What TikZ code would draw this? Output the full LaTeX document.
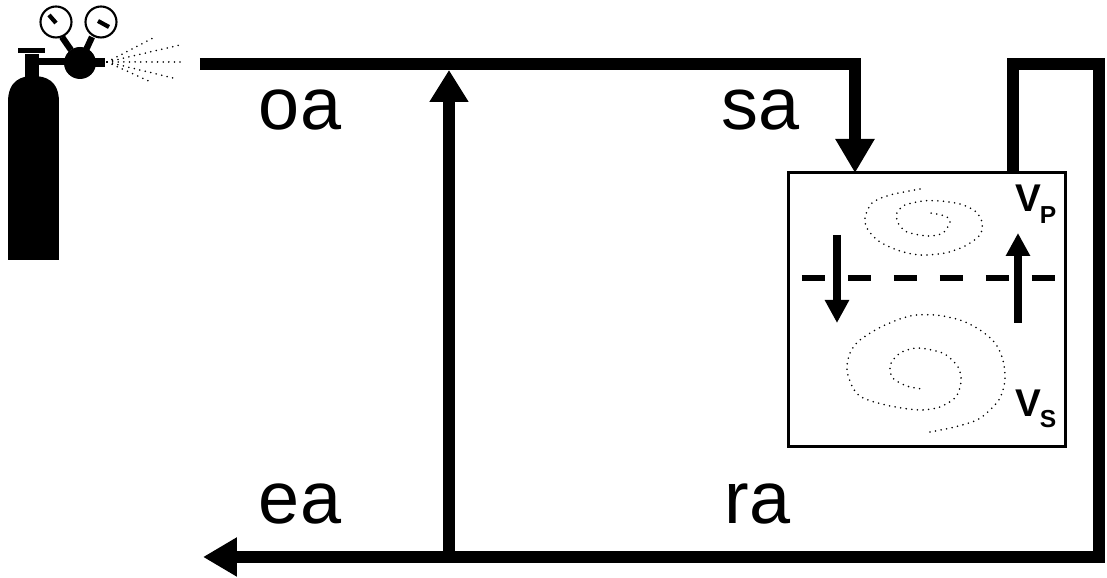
\documentclass[tikz,border=0pt]{standalone}
\usepackage{fontspec}
\setmainfont{Liberation Sans}
\usetikzlibrary{arrows.meta}

\begin{document}
\begin{tikzpicture}[scale=1,inner sep=0pt,outer sep=0pt,
pipe/.style={line width=1.2mm},
flow/.style={-{Triangle[width=3.7mm,length=3.4mm]}},
mix/.style={line width=0.75mm,-{Triangle[width=2.3mm,length=2.3mm]}},
swirl/.style={line width=0.5pt,line cap=round,dash pattern=on 0pt off 1.6pt},
duct/.style={font=\fontsize{21}{25}\selectfont,anchor=base west},
zone/.style={font=\fontsize{11}{13}\selectfont\bfseries,anchor=base west}]
\useasboundingbox (0,0) rectangle (11.07,5.78);

\draw (9.275,2.68) node[draw,line width=0.3mm,minimum width=2.77cm,minimum height=2.74cm] (room) {};

\coordinate (feed) at (2.00,5.14);
\coordinate (bend) at (10.99,5.14);
\coordinate (exhaust) at (2.03,0.21);
\coordinate (recirc) at (4.49,0.21);
\coordinate (mixpt) at (4.49,5.08);

\draw[pipe,flow] (feed) -| ([xshift=0.66cm]room.north west);
\draw[pipe,flow] ([xshift=2.24cm]room.north west) |- (bend) |- (exhaust);
\draw[pipe,-{Triangle[width=3.7mm,length=3.2mm]}] (recirc) -- (mixpt);

\draw (2.59,4.48) node[duct] (oa) {oa};
\draw (7.22,4.48) node[duct] (sa) {sa};
\draw (2.59,0.54) node[duct] (ea) {ea};
\draw (7.25,0.54) node[duct] (ra) {ra};

\draw (10.16,3.66) node[zone] (vp) {V\kern-0.05em\raisebox{-3.4pt}{\fontsize{7}{8}\selectfont P}};
\draw (10.16,1.61) node[zone] (vs) {V\kern-0.05em\raisebox{-3.1pt}{\fontsize{7}{8}\selectfont S}};

% inside the room
\draw[line width=0.55mm,dash pattern=on 2.3mm off 2.3mm] (8.02,3.00) -- (10.55,3.00);
\draw[mix] (8.37,3.43) -- (8.37,2.55);
\draw[mix] (10.18,2.55) -- (10.18,3.45);
\draw[swirl] plot[smooth] coordinates {(9.20,3.89) (8.90,3.83) (8.72,3.75) (8.65,3.60) (8.68,3.48) (8.80,3.36) (9.00,3.27) (9.20,3.23) (9.45,3.25) (9.65,3.32) (9.80,3.43) (9.82,3.56) (9.75,3.67) (9.60,3.74) (9.40,3.77) (9.23,3.77) (9.05,3.73) (8.97,3.65) (8.98,3.55) (9.07,3.46) (9.28,3.42) (9.43,3.45) (9.50,3.56) (9.47,3.61) (9.37,3.64) (9.30,3.65)};
\draw[swirl] plot[smooth] coordinates {(9.30,1.46) (9.55,1.51) (9.77,1.58) (9.90,1.68) (10.00,1.80) (10.05,1.98) (10.03,2.18) (9.95,2.35) (9.80,2.48) (9.60,2.58) (9.35,2.63) (9.10,2.62) (8.83,2.52) (8.60,2.38) (8.50,2.25) (8.47,2.08) (8.53,1.90) (8.63,1.80) (8.90,1.72) (9.20,1.68) (9.40,1.71) (9.55,1.80) (9.60,1.91) (9.61,2.01) (9.58,2.11) (9.50,2.20) (9.40,2.26) (9.18,2.30) (9.02,2.26) (8.93,2.18) (8.90,2.11) (8.92,2.01) (9.00,1.95) (9.10,1.91) (9.22,1.89)};

% gas bottle with regulator
\fill (0.08,3.18) -- (0.08,4.76) .. controls (0.08,4.98) and (0.22,5.02) .. (0.33,5.02) .. controls (0.45,5.02) and (0.59,4.98) .. (0.59,4.76) -- (0.59,3.18) -- cycle;
\fill (0.25,4.98) rectangle (0.39,5.24);
\fill (0.18,5.25) rectangle (0.45,5.30);
\fill (0.38,5.13) rectangle (0.70,5.20);
\fill (0.80,5.15) circle (0.16);
\fill (0.94,5.11) rectangle (1.05,5.20);
\draw[line width=1.8pt] (0.62,5.41) -- (0.71,5.28) (0.92,5.41) -- (0.86,5.28);
\draw[line width=0.6pt,fill=white] (0.56,5.56) circle (0.155) (1.01,5.56) circle (0.155);
\draw[line width=1.2pt] (0.49,5.63) -- (0.56,5.55) (0.98,5.57) -- (1.09,5.51);
\foreach \x/\y in {1.55/5.41,1.80/5.33,1.83/5.16,1.73/5.00,1.53/4.95}
  \draw[swirl] (1.07,5.16) -- (\x,\y);
\end{tikzpicture}
\end{document}
